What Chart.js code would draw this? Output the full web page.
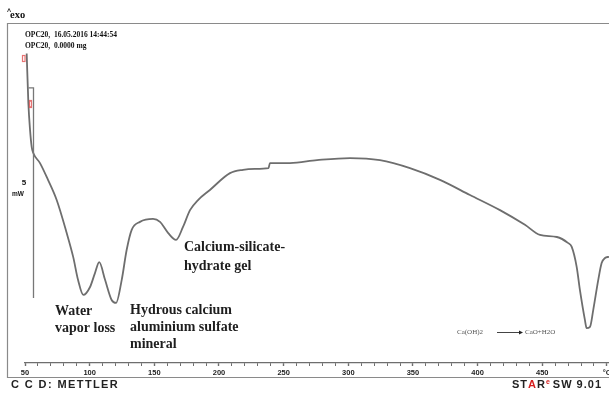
<!DOCTYPE html>
<html>
<head>
<meta charset="utf-8">
<script src="https://cdn.jsdelivr.net/npm/chart.js@4/dist/chart.umd.min.js"></script>
<style>
  html, body { margin: 0; padding: 0; background: #fff; }
  #wrap { width: 609px; height: 394px; position: relative; }
</style>
</head>
<body>
<div id="wrap"><canvas id="dsc"></canvas></div>
<script>
// DSC trace of OPC20: temperature (°C) against heat flow (mW)
const temps = [51.3, 52.6, 53.9, 55.2, 56.4, 61.6, 67.8, 74.5, 82.2, 87.3, 91.0, 95.1,
  100.3, 104.1, 107.4, 111.9, 117.0, 120.4, 124.8, 128.6, 132.5, 138.9, 149.0, 154.4,
  160.6, 166.8, 172.2, 177.6, 183.8, 193.0, 208.5, 218.6, 227.8, 238.3, 239.4, 254.9,
  275.8, 301.3, 324.5, 347.7, 370.9, 394.1, 417.3, 436.6, 448.2, 461.3, 469.8, 472.7,
  476.6, 479.1, 483.0, 484.3, 486.9, 489.4, 493.3, 495.9, 498.5, 501.6];
const heatFlow = [7.37, 6.19, 5.55, 5.14, 5.00, 4.76, 4.36, 3.88, 3.10, 2.52, 1.98, 1.62,
  1.81, 2.14, 2.40, 1.98, 1.50, 1.43, 1.98, 2.69, 3.17, 3.36, 3.43, 3.36,
  3.10, 2.93, 3.24, 3.64, 3.88, 4.12, 4.52, 4.60, 4.62, 4.64, 4.76, 4.76,
  4.83, 4.88, 4.83, 4.64, 4.36, 4.00, 3.64, 3.29, 3.05, 3.00, 2.86, 2.77,
  2.29, 1.74, 1.02, 0.83, 0.86, 1.26, 1.98, 2.38, 2.50, 2.53];
const tickValues = [50, 100, 150, 200, 250, 300, 350, 400, 450, 500];
const tickLabels = ['50', '100', '150', '200', '250', '300', '350', '400', '450', '°C'];

// scale bar: 5 mW, drawn from this heat-flow level downwards
const scaleBarTop = 6.55;
const scaleBarSpan = 5;
const scaleBarTemp = 56.4;

const points = temps.map((t, i) => ({ x: t, y: heatFlow[i] }));

const decor = {
  id: 'decor',
  beforeDraw(chart) {
    const ctx = chart.ctx;
    ctx.save();
    ctx.fillStyle = '#fff';
    ctx.fillRect(0, 0, chart.width, chart.height);
    // instrument frame
    ctx.strokeStyle = '#8a8a8a';
    ctx.lineWidth = 1.2;
    ctx.beginPath();
    ctx.moveTo(615, 23.5);
    ctx.lineTo(7.5, 23.5);
    ctx.lineTo(7.5, 377.5);
    ctx.lineTo(615, 377.5);
    ctx.stroke();
    ctx.restore();
  },
  afterDraw(chart) {
    const ctx = chart.ctx;
    const xs = chart.scales.x, ys = chart.scales.y;
    ctx.save();

    // header
    ctx.fillStyle = '#111';
    ctx.textBaseline = 'middle';
    ctx.font = 'bold 7px "Liberation Sans"';
    ctx.fillText('^', 7, 12);
    ctx.font = 'bold 10.5px "Liberation Serif"';
    ctx.fillText('exo', 10, 15);
    ctx.font = 'bold 7.5px "Liberation Serif"';
    ctx.fillText('OPC20,  16.05.2016 14:44:54', 25, 35);
    ctx.fillText('OPC20,  0.0000 mg', 25, 46);

    // scale bar
    const bx = Math.round(xs.getPixelForValue(scaleBarTemp)) + 0.5;
    const by1 = ys.getPixelForValue(scaleBarTop);
    const by2 = ys.getPixelForValue(scaleBarTop - scaleBarSpan);
    ctx.strokeStyle = '#777';
    ctx.lineWidth = 1.3;
    ctx.beginPath();
    ctx.moveTo(bx - 5, by1);
    ctx.lineTo(bx, by1);
    ctx.lineTo(bx, by2);
    ctx.stroke();
    ctx.fillStyle = '#111';
    ctx.textAlign = 'center';
    ctx.font = 'bold 8px "Liberation Sans"';
    ctx.fillText('5', 24, 183);
    ctx.font = 'bold 6.5px "Liberation Sans"';
    ctx.fillText('mW', 18, 194);

    // red evaluation marks
    ctx.strokeStyle = 'rgba(225,80,80,0.8)';
    ctx.lineWidth = 1.2;
    ctx.strokeRect(22.5, 55.5, 2.5, 6);
    ctx.strokeRect(29.5, 100.5, 2, 7);

    // peak annotations
    ctx.textAlign = 'left';
    ctx.fillStyle = '#1e1e1e';
    ctx.font = 'bold 14px "Liberation Serif"';
    ctx.fillText('Water', 55, 311);
    ctx.fillText('vapor loss', 55, 328);
    ctx.fillText('Hydrous calcium', 130, 310);
    ctx.fillText('aluminium sulfate', 130, 327);
    ctx.fillText('mineral', 130, 344);
    ctx.fillText('Calcium-silicate-', 184, 247);
    ctx.fillText('hydrate gel', 184, 266);

    // reaction note
    ctx.fillStyle = '#555';
    ctx.font = '7px "Liberation Serif"';
    ctx.fillText('Ca(OH)2', 457, 332);
    ctx.fillText('CaO+H2O', 525, 332);
    ctx.strokeStyle = '#444';
    ctx.lineWidth = 1;
    ctx.beginPath();
    ctx.moveTo(497, 332.5);
    ctx.lineTo(520, 332.5);
    ctx.stroke();
    ctx.fillStyle = '#222';
    ctx.beginPath();
    ctx.moveTo(523, 332.5);
    ctx.lineTo(519, 330.5);
    ctx.lineTo(519, 334.5);
    ctx.closePath();
    ctx.fill();

    // footer
    ctx.fillStyle = '#222';
    ctx.font = 'bold 11px "Liberation Sans"';
    ctx.letterSpacing = '1.4px';
    ctx.fillText('C C D: METTLER', 11, 385);
    let x = 512;
    const parts = [['ST', '#222'], ['A', '#d62020'], ['R', '#222']];
    ctx.font = 'bold 11px "Liberation Sans"';
    ctx.letterSpacing = '1px';
    for (const [s, c] of parts) {
      ctx.fillStyle = c;
      ctx.fillText(s, x, 385);
      x += ctx.measureText(s).width;
    }
    ctx.fillStyle = '#d62020';
    ctx.font = 'bold 7px "Liberation Sans"';
    ctx.fillText('e', x, 382);
    x += ctx.measureText('e').width + 2;
    ctx.fillStyle = '#222';
    ctx.font = 'bold 11px "Liberation Sans"';
    ctx.fillText('SW 9.01', x, 385);
    ctx.restore();
  }
};

new Chart(document.getElementById('dsc'), {
  type: 'line',
  data: {
    datasets: [{
      data: points,
      borderColor: '#6e6e6e',
      borderWidth: 1.8,
      pointRadius: 0,
      fill: false,
      cubicInterpolationMode: 'monotone'
    }]
  },
  options: {
    responsive: true,
    maintainAspectRatio: false,
    animation: false,
    events: [],
    layout: { padding: { left: 25, right: 0, top: 27, bottom: 0 } },
    plugins: { legend: { display: false }, title: { display: false }, tooltip: { enabled: false } },
    scales: {
      x: {
        type: 'linear',
        min: 50,
        max: 501.6,
        afterBuildTicks(scale) {
          const t = [];
          for (let v = 50; v <= 500; v += 10) t.push({ value: v });
          scale.ticks = t;
        },
        afterFit(scale) {
          scale.height = 31;
          scale.paddingLeft = 0;
          scale.paddingRight = 0;
        },
        border: { display: true, color: '#6e6e6e', width: 1.2 },
        grid: {
          display: true,
          drawOnChartArea: false,
          drawTicks: true,
          tickLength: 3,
          tickColor: '#6e6e6e',
          tickWidth: (c) => (c.tick && c.tick.value % 50 === 0 ? 1.4 : 1)
        },
        ticks: {
          autoSkip: false,
          maxRotation: 0,
          padding: 2,
          color: '#1e1e1e',
          font: { family: 'Liberation Sans', size: 7.5, weight: 'bold' },
          callback: (v) => {
            const i = tickValues.indexOf(v);
            return i >= 0 ? tickLabels[i] : '';
          }
        }
      },
      y: {
        type: 'linear',
        display: false,
        min: 0,
        max: 8
      }
    }
  },
  plugins: [decor]
});
</script>
</body>
</html>
